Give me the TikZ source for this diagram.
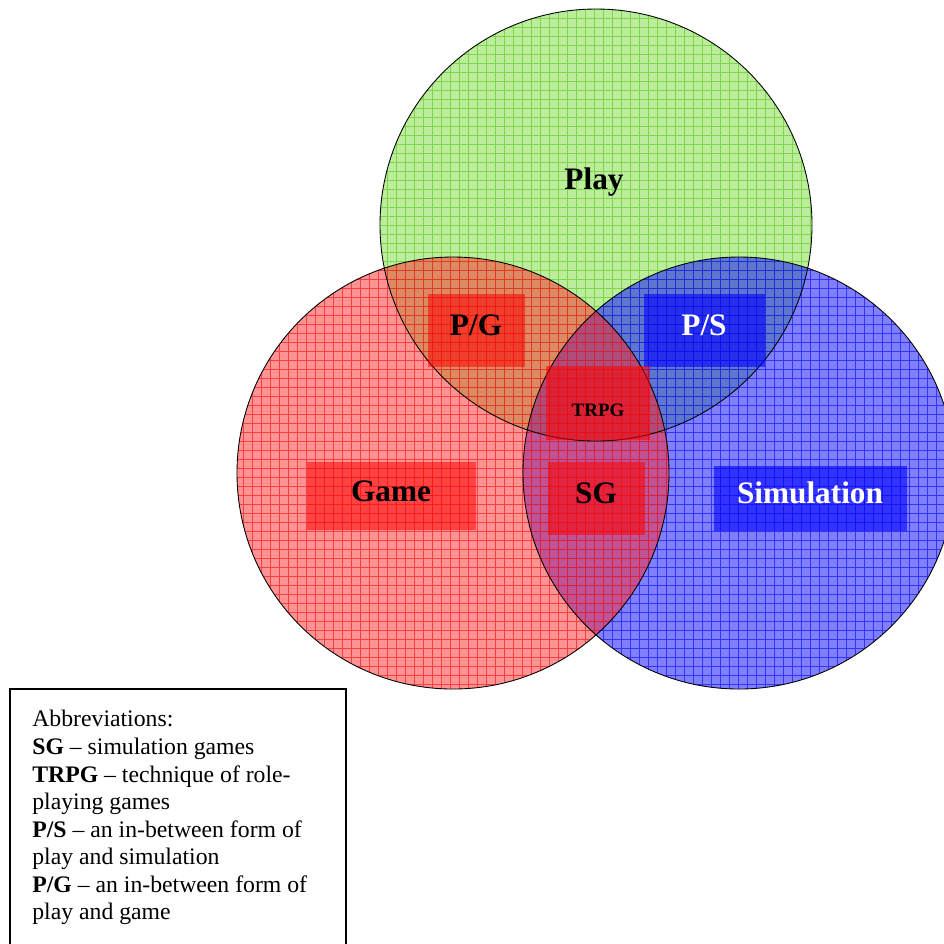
\documentclass[tikz,border=0pt]{standalone}
\usepackage{fontspec}
\setmainfont{Liberation Serif}
\definecolor{playgreen}{RGB}{120,220,60}
\definecolor{playgrid}{RGB}{100,205,40}
\definecolor{gamered}{RGB}{255,40,40}
\definecolor{gamegrid}{RGB}{240,30,30}
\definecolor{simblue}{RGB}{0,0,255}
\definecolor{simgrid}{RGB}{20,20,240}
\tikzset{
  lbl/.style={font=\bfseries\fontsize{17.8}{20}\selectfont, inner sep=0pt, text height=4mm, text depth=2mm},
  redbox/.style={lbl, fill=red, fill opacity=0.55, text opacity=1},
  bluebox/.style={lbl, fill=blue, fill opacity=0.6, text opacity=1, text=white},
  disc/.style={fill opacity=0.5},
  mesh/.style={step=1.8mm, line width=0.45pt, opacity=0.7},
}
\begin{document}
\begin{tikzpicture}[x=0.2mm, y=-0.2mm]
\useasboundingbox (0,0) rectangle (944,943);
\clip (0,0) rectangle (944,943);
\coordinate (P) at (596,225);
\coordinate (G) at (453,473);
\coordinate (S) at (739,473);
\fill[playgreen, disc] (P) circle[radius=43.2mm];
\begin{scope}
\clip (P) circle[radius=43.2mm];
\draw[playgrid, mesh] (370,450) grid (820,0);
\end{scope}
\fill[simblue, disc] (S) circle[radius=43.2mm];
\begin{scope}
\clip (S) circle[radius=43.2mm];
\draw[simgrid, mesh] (515,700) grid (960,250);
\end{scope}
\fill[gamered, disc] (G) circle[radius=43.2mm];
\begin{scope}
\clip (G) circle[radius=43.2mm];
\draw[gamegrid, mesh] (230,700) grid (680,250);
\end{scope}
\draw[line width=0.5pt] (P) circle[radius=43.2mm];
\draw[line width=0.5pt] (S) circle[radius=43.2mm];
\draw[line width=0.5pt] (G) circle[radius=43.2mm];
\node[lbl] (play) at (594,184) {Play};
\node[redbox, minimum width=19.4mm, minimum height=14.6mm] (pg) at (476,330) {P/G};
\node[bluebox, minimum width=24.2mm, minimum height=14.6mm] (ps) at (704,330) {P/S};
\node[redbox, minimum width=20.8mm, minimum height=14.8mm, font=\bfseries\fontsize{10.8}{12}\selectfont, text height=5.4mm, text depth=0mm] (trpg) at (598,403) {TRPG};
\node[redbox, minimum width=33.8mm, minimum height=13.6mm] (game) at (391,496) {Game};
\node[redbox, minimum width=19.4mm, minimum height=14.6mm] (sg) at (596,498) {SG};
\node[bluebox, minimum width=38.6mm, minimum height=13mm] (sim) at (810,498) {Simulation};
\draw[line width=1.1pt] (10,960) -- (10,689) -- (346,689) -- (346,960);
\node[anchor=north west, inner sep=0pt, align=left, font=\fontsize{13.5}{15.7}\selectfont] (abbr) at (32,710) {Abbreviations:\\
\textbf{SG} \textendash{} simulation games\\
\textbf{TRPG} \textendash{} technique of role-\\
playing games\\
\textbf{P/S} \textendash{} an in-between form of\\
play and simulation\\
\textbf{P/G} \textendash{} an in-between form of\\
play and game};
\end{tikzpicture}
\end{document}
